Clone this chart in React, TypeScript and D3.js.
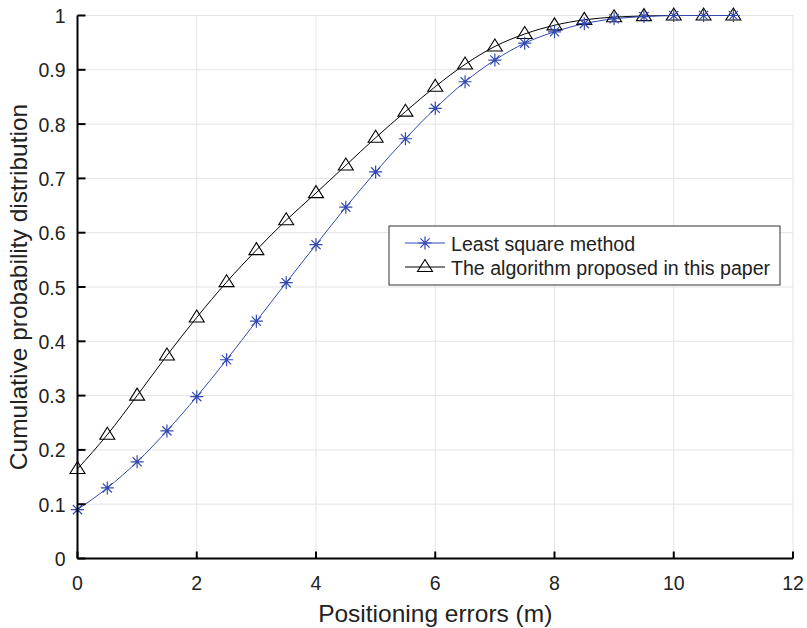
import React, { useRef, useEffect } from "react";
import * as d3 from "d3";

const xs = [0, 0.5, 1, 1.5, 2, 2.5, 3, 3.5, 4, 4.5, 5, 5.5, 6, 6.5, 7, 7.5, 8, 8.5, 9, 9.5, 10, 10.5, 11];
const leastSquare = [0.09, 0.13, 0.178, 0.235, 0.298, 0.366, 0.437, 0.508, 0.578, 0.647, 0.712, 0.773, 0.829, 0.878, 0.918, 0.949, 0.97, 0.985, 0.994, 0.998, 1, 1, 1];
const proposed = [0.165, 0.228, 0.3, 0.374, 0.444, 0.509, 0.568, 0.623, 0.673, 0.724, 0.775, 0.823, 0.869, 0.91, 0.943, 0.966, 0.982, 0.992, 0.997, 0.999, 1, 1, 1];
const xTicks = [0, 2, 4, 6, 8, 10, 12];
const yTicks = [0, 0.1, 0.2, 0.3, 0.4, 0.5, 0.6, 0.7, 0.8, 0.9, 1];
const seriesNames = ["Least square method", "The algorithm proposed in this paper"];

const width = 807;
const height = 628;
const margin = { top: 15.5, bottom: 69.5, right: 14, left: 77.5 };
const blue = "#3349b0";
const font = "'Liberation Sans', Arial, sans-serif";

const App = () => {
  const svgRef = useRef<SVGSVGElement>(null);

  useEffect(() => {
    const svg = d3.select(svgRef.current);
    svg.selectAll("*").remove();

    const x = d3.scaleLinear([0, 12], [margin.left, width - margin.right]);
    const y = d3.scaleLinear([0, 1], [height - margin.bottom, margin.top]);

    // grid
    const grid = svg.append("g");
    grid.selectAll("line.v").data(xTicks).join("line")
      .attr("x1", (d) => x(d)).attr("x2", (d) => x(d))
      .attr("y1", y(0)).attr("y2", y(1))
      .attr("stroke", "#e3e3e3").attr("stroke-width", 1);
    grid.selectAll("line.h").data(yTicks).join("line")
      .attr("class", "h")
      .attr("x1", x(0)).attr("x2", x(12))
      .attr("y1", (d) => y(d)).attr("y2", (d) => y(d))
      .attr("stroke", "#e3e3e3").attr("stroke-width", 1);

    const line = d3.line<number>()
      .x((d, i) => x(xs[i]))
      .y((d) => y(d))
      .curve(d3.curveMonotoneX);

    const star = (g, cx, cy, r) => {
      const path = d3.path();
      for (let k = 0; k < 4; k++) {
        const a = (k * Math.PI) / 4;
        path.moveTo(cx - r * Math.cos(a), cy - r * Math.sin(a));
        path.lineTo(cx + r * Math.cos(a), cy + r * Math.sin(a));
      }
      g.append("path").attr("d", path.toString()).attr("stroke", blue).attr("stroke-width", 1.2).attr("fill", "none");
    };
    const tri = (g, cx, cy, s) => {
      const h = s * 0.8;
      g.append("path")
        .attr("d", `M${cx},${cy - h * 0.62}L${cx + s / 2},${cy + h * 0.38}L${cx - s / 2},${cy + h * 0.38}Z`)
        .attr("stroke", "black").attr("stroke-width", 1.1).attr("fill", "none");
    };

    svg.append("path").attr("d", line(proposed)).attr("stroke", "black").attr("stroke-width", 1).attr("fill", "none");
    svg.append("path").attr("d", line(leastSquare)).attr("stroke", blue).attr("stroke-width", 1).attr("fill", "none");

    const mk = svg.append("g");
    proposed.forEach((v, i) => tri(mk, x(xs[i]), y(v), 15));
    leastSquare.forEach((v, i) => star(mk, x(xs[i]), y(v), 6.5));

    // axes
    const ax = svg.append("g").attr("font-family", font).attr("font-size", 19.5).attr("fill", "#222");
    ax.append("line").attr("x1", x(0)).attr("x2", x(0)).attr("y1", y(0)).attr("y2", y(1)).attr("stroke", "black").attr("stroke-width", 2);
    ax.append("line").attr("x1", x(0)).attr("x2", x(12)).attr("y1", y(0)).attr("y2", y(0)).attr("stroke", "black").attr("stroke-width", 2);
    ax.selectAll("line.yt").data(yTicks).join("line").attr("class", "yt")
      .attr("x1", x(0)).attr("x2", x(0) + 8).attr("y1", (d) => y(d)).attr("y2", (d) => y(d))
      .attr("stroke", "black").attr("stroke-width", 2);
    ax.selectAll("line.xt").data(xTicks).join("line").attr("class", "xt")
      .attr("x1", (d) => x(d)).attr("x2", (d) => x(d)).attr("y1", y(0)).attr("y2", y(0) - 7)
      .attr("stroke", "black").attr("stroke-width", 2);
    ax.selectAll("text.yl").data(yTicks).join("text").attr("class", "yl")
      .attr("x", x(0) - 12).attr("y", (d) => y(d) + 7.5)
      .attr("text-anchor", "end").text((d) => `${d}`);
    ax.selectAll("text.xl").data(xTicks).join("text").attr("class", "xl")
      .attr("x", (d) => x(d)).attr("y", y(0) + 31)
      .attr("text-anchor", "middle").text((d) => `${d}`);

    svg.append("text").attr("x", (x(0) + x(12)) / 2).attr("y", 622)
      .attr("text-anchor", "middle").attr("font-family", font).attr("font-size", 24.5).attr("fill", "#222")
      .text("Positioning errors (m)");
    svg.append("text").attr("transform", `translate(27, ${(y(0) + y(1)) / 2}) rotate(-90)`)
      .attr("text-anchor", "middle").attr("font-family", font).attr("font-size", 24.5).attr("fill", "#222")
      .text("Cumulative probability distribution");

    // legend
    const lg = svg.append("g").attr("font-family", font).attr("font-size", 19.6).attr("fill", "#222");
    lg.append("rect").attr("x", 389).attr("y", 226).attr("width", 391).attr("height", 59)
      .attr("fill", "white").attr("stroke", "#333").attr("stroke-width", 1);
    const rows = [243, 267];
    lg.append("line").attr("x1", 405).attr("x2", 445).attr("y1", rows[0]).attr("y2", rows[0]).attr("stroke", blue);
    star(lg, 425, rows[0], 6.5);
    lg.append("line").attr("x1", 405).attr("x2", 445).attr("y1", rows[1]).attr("y2", rows[1]).attr("stroke", "black");
    tri(lg, 425, rows[1], 15);
    seriesNames.forEach((n, i) => {
      lg.append("text").attr("x", 451).attr("y", rows[i] + 8).text(n);
    });
  }, []);

  return (
    <svg ref={svgRef} width={width} height={height}
      style={{ position: "absolute", left: 0, top: 0, background: "white" }} />
  );
};

export default App;
